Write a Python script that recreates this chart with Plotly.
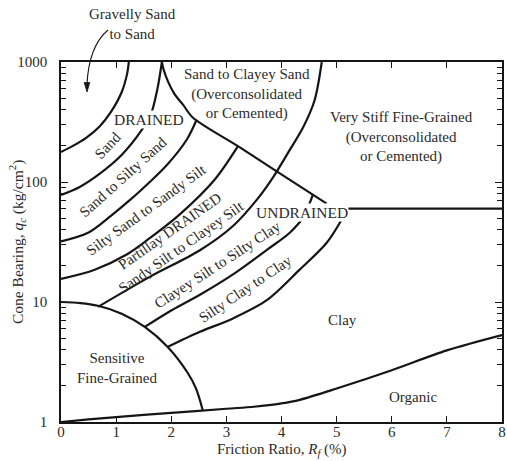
import plotly.graph_objects as go

# Soil behaviour type chart: friction ratio Rf (%) vs cone bearing qc (kg/cm2)
# Each boundary is a list of Rf values and the matching qc values.

gravel_sand_rf = [0, 0.2, 0.45, 0.7, 0.9, 1.1, 1.2, 1.23]
gravel_sand_qc = [178, 198, 232, 290, 380, 560, 800, 1000]

sand_rf = [0, 0.34, 0.71, 1.1, 1.45, 1.63, 1.75, 1.83]
sand_qc = [78, 91, 118, 168, 265, 365, 600, 1000]

silty_sand_rf = [0, 0.5, 0.9, 1.3, 1.61, 1.9, 2.28, 2.46]
silty_sand_qc = [32, 38, 52, 74, 100, 135, 225, 330]

sandy_silt_rf = [0, 0.6, 1.2, 1.61, 2.16, 2.79, 3.21]
sandy_silt_qc = [15.6, 18.5, 25, 34, 54, 105, 199]

clayey_silt_rf = [0.67, 1.61, 2.52, 3.12, 3.55, 3.85, 4.15, 4.4, 4.6, 4.73]
clayey_silt_qc = [9.1, 16.2, 27, 43, 71, 110, 185, 290, 480, 1000]

silty_clay_rf = [1.52, 2.0, 2.52, 3.12, 3.74, 4.15, 4.39, 4.57]
silty_clay_qc = [6.2, 8.5, 11.5, 17, 27.3, 37.8, 50.4, 78.5]

clay_rf = [1.94, 2.52, 3.12, 3.74, 4.33, 4.82, 5.11, 5.19]
clay_qc = [4.23, 5.64, 7.3, 10.4, 18.6, 31.2, 50.4, 60]

sensitive_rf = [0, 0.35, 0.67, 1.1, 1.52, 1.94, 2.3, 2.45, 2.57]
sensitive_qc = [10, 9.8, 9.3, 8.0, 6.2, 4.2, 2.56, 1.9, 1.26]

organic_rf = [0, 0.5, 1, 2, 3, 3.5, 4, 4.33, 5, 6, 7, 8]
organic_qc = [1, 1.05, 1.1, 1.19, 1.29, 1.34, 1.43, 1.53, 1.9, 2.7, 3.95, 5.3]

cemented_rf = [1.83, 1.86, 1.94, 2.06, 2.21, 2.39, 3.21, 3.92, 4.82]
cemented_qc = [1000, 870, 690, 540, 443, 345, 199, 122, 66]

stiff_rf = [5.19, 8]
stiff_qc = [60, 60]

x_ticks = [0, 1, 2, 3, 4, 5, 6, 7, 8]
y_ticks = [1, 10, 100, 1000]
y_minor = [m * 10 ** k for k in range(3) for m in range(2, 10)]

LINE = "#151515"
TEXT = "#2b2b2b"
FONT = "Liberation Serif"

boundaries = [
    (gravel_sand_rf, gravel_sand_qc),
    (sand_rf, sand_qc),
    (silty_sand_rf, silty_sand_qc),
    (sandy_silt_rf, sandy_silt_qc),
    (clayey_silt_rf, clayey_silt_qc),
    (silty_clay_rf, silty_clay_qc),
    (clay_rf, clay_qc),
    (sensitive_rf, sensitive_qc),
    (organic_rf, organic_qc),
    (cemented_rf, cemented_qc),
    (stiff_rf, stiff_qc),
]

fig = go.Figure()
for rf, qc in boundaries:
    fig.add_trace(go.Scatter(
        x=rf, y=qc, mode="lines",
        line=dict(color=LINE, width=2.2, shape="spline", smoothing=0.9),
        hoverinfo="skip", showlegend=False,
    ))

# zone labels: (text, Rf, log10 qc, angle, size, white background)
labels = [
    ("Sand to Clayey Sand<br>(Overconsolidated<br>or Cemented)", 3.37, 2.73, 0, 15, False),
    ("Very Stiff Fine-Grained<br>(Overconsolidated<br>or Cemented)", 6.18, 2.379, 0, 15, False),
    ("DRAINED", 1.596, 2.521, 0, 15.5, True),
    ("UNDRAINED", 4.37, 1.745, 0, 15.5, True),
    ("Sand", 0.852, 2.312, -47, 15, False),
    ("Sand to Silty Sand", 1.124, 2.045, -42, 15, False),
    ("Silty Sand to Sandy Silt", 1.54, 1.77, -36, 15, False),
    ("Partillay DRAINED<br>Sandy Silt to Clayey Silt", 2.085, 1.528, -35, 15, False),
    ("Clayey Silt to Silty Clay", 2.83, 1.31, -33, 15, False),
    ("Silty Clay to Clay", 3.34, 1.11, -34, 15, False),
    ("Clay", 5.11, 0.851, 0, 15, False),
    ("Organic", 6.38, 0.209, 0, 15, False),
    ("Sensitive<br>Fine-Grained", 1.015, 0.451, 0, 15, False),
]
for text, x, y, ang, size, bg in labels:
    fig.add_annotation(
        x=x, y=y, xref="x", yref="y", text=text, showarrow=False,
        textangle=ang, xanchor="center", yanchor="middle",
        font=dict(family=FONT, size=size, color=TEXT),
        bgcolor="white" if bg else "rgba(0,0,0,0)", borderpad=0,
    )

# pixel -> paper conversion for items placed outside the plotting area
PL, PR, PT, PB = 61, 502, 62, 422


def paper(px, py):
    return (px - PL) / (PR - PL), (PB - py) / (PB - PT)


gx, gy = paper(132, 24)
fig.add_annotation(
    x=gx, y=gy, xref="paper", yref="paper", text="Gravelly Sand<br>to Sand",
    showarrow=False, xanchor="center", yanchor="middle",
    font=dict(family=FONT, size=15, color=TEXT),
)

# axis titles
tx, ty = paper(282, 450)
fig.add_annotation(
    x=tx, y=ty, xref="paper", yref="paper",
    text="Friction Ratio, <i>R<sub>f</sub></i> (%)",
    showarrow=False, xanchor="center", yanchor="middle",
    font=dict(family=FONT, size=15, color=TEXT),
)
vx, vy = paper(17, 242)
fig.add_annotation(
    x=vx, y=vy, xref="paper", yref="paper",
    text="Cone Bearing, <i>q<sub>c</sub></i> (kg/cm<sup>2</sup>)",
    showarrow=False, xanchor="center", yanchor="middle", textangle=-90,
    font=dict(family=FONT, size=15.5, color=TEXT),
)

# curved pointer from the "Gravelly Sand" label into its zone
a0, c0, a1 = paper(108, 30), paper(89, 46), paper(87, 84)
fig.add_shape(
    type="path", xref="paper", yref="paper",
    path=f"M {a0[0]},{a0[1]} Q {c0[0]},{c0[1]} {a1[0]},{a1[1]}",
    line=dict(color=LINE, width=1.1),
)
t0, t1, t2 = paper(87, 92), paper(84.2, 82.5), paper(89.8, 82.5)
fig.add_shape(
    type="path", xref="paper", yref="paper",
    path=f"M {t0[0]},{t0[1]} L {t1[0]},{t1[1]} L {t2[0]},{t2[1]} Z",
    line=dict(color=LINE, width=0.8), fillcolor=LINE,
)

axis_common = dict(
    showline=True, linecolor=LINE, linewidth=1.6, mirror="ticks",
    ticks="inside", tickcolor=LINE, tickwidth=1.1,
    showgrid=False, zeroline=False,
    tickfont=dict(family=FONT, size=15, color=TEXT),
)
minor_ticks = dict(ticks="inside", ticklen=5, tickcolor=LINE, tickwidth=1, tickvals=y_minor)

fig.update_xaxes(
    range=[0, 8], tickvals=x_ticks, ticklen=6, ticklabelstandoff=-5,
    **axis_common,
)
fig.update_yaxes(
    type="log", range=[0, 3], tickvals=y_ticks, ticktext=[str(v) for v in y_ticks],
    ticklen=7, ticklabelstandoff=9, minor=minor_ticks,
    **axis_common,
)

fig.update_layout(
    width=507, height=461,
    margin=dict(l=61, r=5, t=62, b=39, autoexpand=False),
    paper_bgcolor="white", plot_bgcolor="white",
    showlegend=False,
    # right-hand log scale ticks (major and minor) without labels
    yaxis2=dict(
        type="log", range=[0, 3], overlaying="y", side="right", anchor="x",
        showline=False, showgrid=False, zeroline=False, showticklabels=False,
        ticks="inside", ticklen=7, tickcolor=LINE, tickwidth=1.1,
        tickvals=y_ticks, minor=minor_ticks,
    ),
)

fig.write_html("out.html")
